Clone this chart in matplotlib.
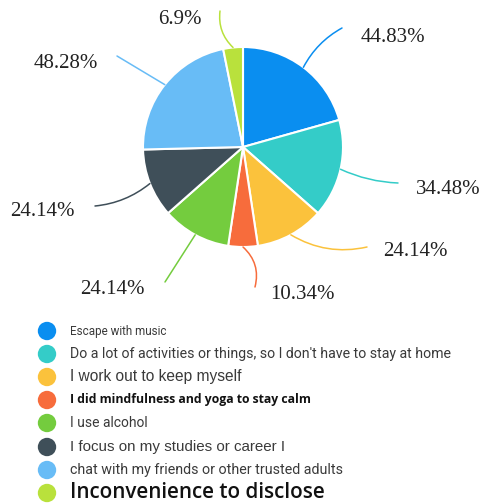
import numpy as np
import matplotlib
matplotlib.use("Agg")
import matplotlib.pyplot as plt

labels = ["Escape with music",
          "Do a lot of activities or things, so I don't have to stay at home",
          "I work out to keep myself",
          "I did mindfulness and yoga to stay calm",
          "I use alcohol",
          "I focus on my studies or career I",
          "chat with my friends or other trusted adults",
          "Inconvenience to disclose"]
pct = [44.83, 34.48, 24.14, 10.34, 24.14, 24.14, 48.28, 6.9]
pct_text = ["44.83%", "34.48%", "24.14%", "10.34%", "24.14%", "24.14%", "48.28%", "6.9%"]
colors = ["#0a8ef0", "#34ccc8", "#fbc23c", "#f76c3c", "#74cc3e", "#3f4f59", "#68bcf6", "#b9e13c"]

# where each percentage label sits (pie radius = 1)
label_pos = [(1.50, 1.09), (2.05, -0.43), (1.72, -1.05), (0.59, -1.48),
             (-1.31, -1.43), (-2.01, -0.64), (-1.77, 0.84), (-0.63, 1.28)]
line_end = [(0.99, 1.19), (1.55, -0.36), (1.24, -1.00), (0.12, -1.40),
            (-0.78, -1.35), (-1.48, -0.59), (-1.26, 0.91), (-0.23, 1.36)]
line_rad = [0.15, -0.1, -0.2, 0.3, 0.0, 0.15, 0.0, 0.25]

W, H = 483, 504
fig = plt.figure(figsize=(W / 100, H / 100), dpi=100)
fig.patch.set_facecolor("white")

cx, cy, r = 243, 147, 100
ax = fig.add_axes([(cx - r) / W, (H - cy - r) / H, 2 * r / W, 2 * r / H])
wedges, _ = ax.pie(pct, colors=colors, startangle=90, counterclock=False,
                   wedgeprops=dict(edgecolor="white", linewidth=1.5))
ax.set_xlim(-1, 1)
ax.set_ylim(-1, 1)
ax.set_aspect("auto")

for w, txt, c, pos, end, rad in zip(wedges, pct_text, colors, label_pos, line_end, line_rad):
    ang = np.deg2rad((w.theta1 + w.theta2) / 2)
    start = (np.cos(ang), np.sin(ang))
    ax.annotate("", xy=start, xytext=end, annotation_clip=False,
                arrowprops=dict(arrowstyle="-", color=c, lw=1.1,
                                connectionstyle=f"arc3,rad={rad}",
                                shrinkA=0, shrinkB=0))
    ax.text(pos[0], pos[1], txt, ha="center", va="center",
            family="Liberation Serif", fontsize=15, color="#222222", clip_on=False)

# legend drawn row by row, each line in its own type style
leg = fig.add_axes([0, 0, 1, 1])
leg.set_xlim(0, W)
leg.set_ylim(H, 0)
leg.axis("off")
row_y = [331, 354, 377, 400, 423, 447, 470, 493]
row_w = [96, 380, 173, 242, 78, 217, 275, 255]
styles = [dict(family="Roboto", fontsize=11, color="#3a3a3a"),
          dict(family="Roboto", fontsize=15, color="#3a3a3a"),
          dict(family="Liberation Sans", fontsize=14, color="#3a3a3a"),
          dict(family="Open Sans", fontsize=11, weight="bold", color="#111111"),
          dict(family="Roboto", fontsize=12, color="#3a3a3a"),
          dict(family="Liberation Sans", fontsize=14, color="#3a3a3a"),
          dict(family="Roboto", fontsize=14, color="#3a3a3a"),
          dict(family="Open Sans", fontsize=15, weight="semibold", color="#111111")]
leg.scatter([47] * len(row_y), row_y, s=175, c=colors, edgecolors="none")

# scale each line so it spans the same width as in the original layout
renderer = fig.canvas.get_renderer()
for y, lab, st, tw in zip(row_y, labels, styles, row_w):
    t = leg.text(70, y, lab, va="center", ha="left", **st)
    width = t.get_window_extent(renderer).width
    t.set_fontsize(st["fontsize"] * tw / width)

fig.savefig("out.png", dpi=100, facecolor="white")
